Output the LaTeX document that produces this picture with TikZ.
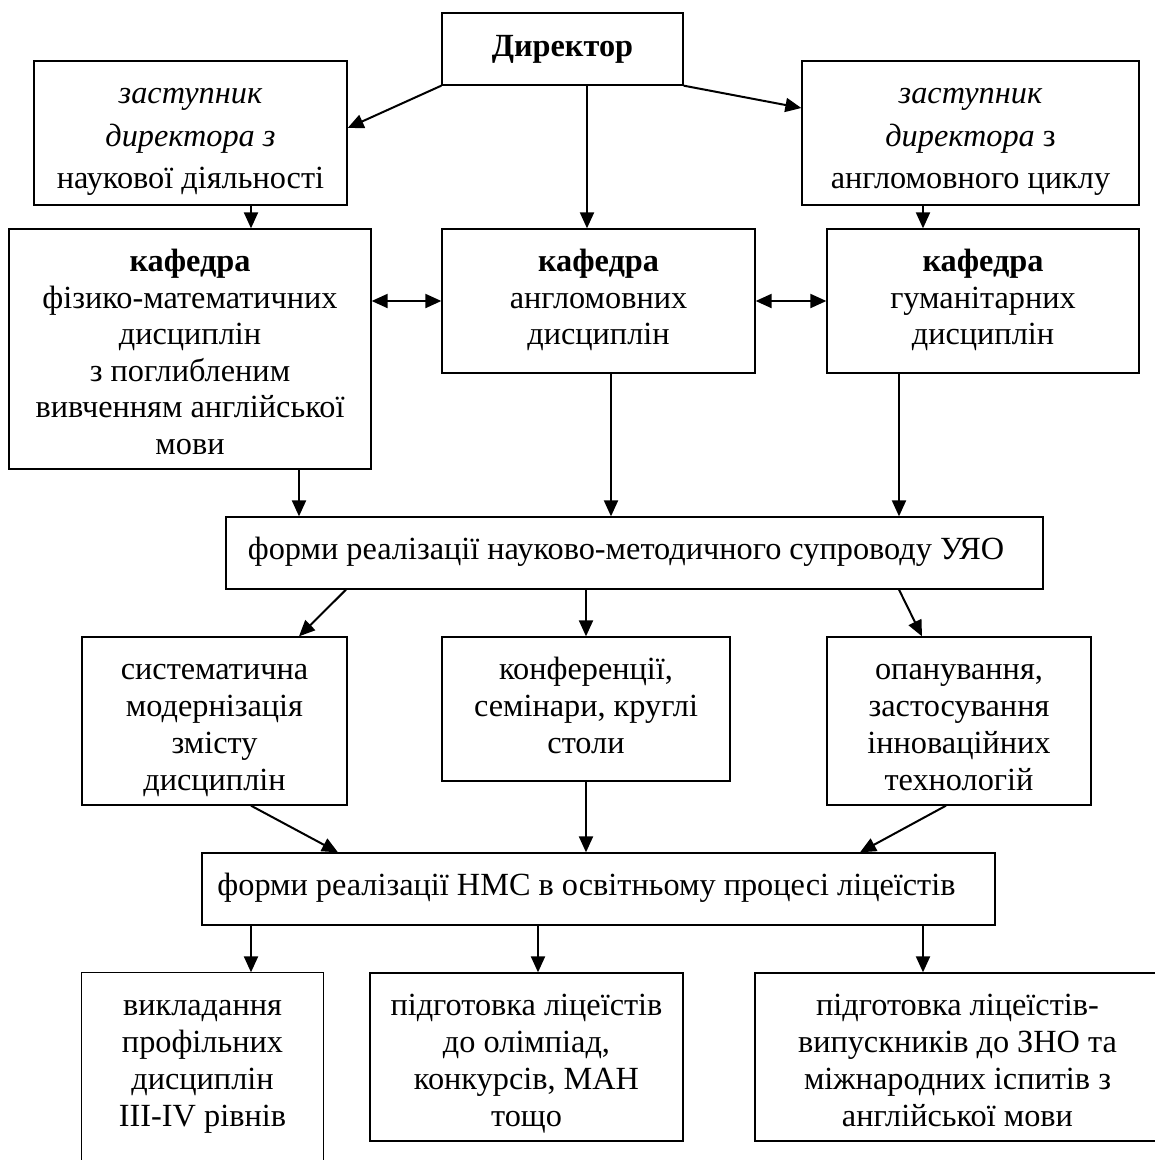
\documentclass[tikz,border=0pt]{standalone}
\usepackage{fontspec}
\setmainfont{Liberation Serif}
\usetikzlibrary{arrows.meta}
\newcommand{\fl}{\rule{0pt}{43pt}}
\tikzset{
  box/.style={draw, line width=1.3pt, inner sep=0pt},
  boxnd/.style={box, draw=none},
  boxline/.style={line width=1.3pt},
  tx/.style={inner sep=0pt, anchor=north, align=center, font=\fontsize{32.3}{37}\selectfont},
  txk/.style={tx, font=\fontsize{32.3}{36.5}\selectfont},
  txd/.style={tx, font=\fontsize{32.3}{42.5}\selectfont},
  arr/.style={line width=2pt, -{Triangle[length=16pt,width=14pt]}},
  darr/.style={line width=2pt, {Triangle[length=16pt,width=14pt]}-{Triangle[length=16pt,width=14pt]}},
}
\begin{document}
\begin{tikzpicture}[x=1pt,y=-1pt]
\useasboundingbox (0,0) rectangle (1155,1160);
\clip (0,0) rectangle (1155,1160);
% boxes
\node[box, minimum width=241pt, minimum height=72pt] (dir) at (562.5,49) {};
\node[box, minimum width=313pt, minimum height=144pt] (dl) at (190.5,133) {};
\node[box, minimum width=337pt, minimum height=144pt] (dr) at (970.5,133) {};
\node[box, minimum width=362pt, minimum height=240pt] (kl) at (190,349) {};
\node[box, minimum width=313pt, minimum height=144pt] (km) at (598.5,301) {};
\node[box, minimum width=312pt, minimum height=144pt] (kr) at (983,301) {};
\node[box, minimum width=817pt, minimum height=72pt] (u) at (634.5,553) {};
\node[box, minimum width=265pt, minimum height=168pt] (sl) at (214.5,721) {};
\node[box, minimum width=288pt, minimum height=144pt] (sm) at (586,709) {};
\node[box, minimum width=264pt, minimum height=168pt] (sr) at (959,721) {};
\node[box, minimum width=793pt, minimum height=72pt] (n) at (598.5,889) {};
\node[boxnd, minimum width=241pt, minimum height=168pt] (bl) at (202.5,1057) {};
\draw[boxline] ([yshift=-60pt]bl.south west) |- (bl.north east) -- ([yshift=-60pt]bl.south east);
\node[box, minimum width=313pt, minimum height=168pt] (bm) at (526.5,1057) {};
\node[box, minimum width=405pt, minimum height=168pt] (br) at (957.5,1057) {};
% texts
\node[tx] (dirT) at (dir.north) {\rule{0pt}{44pt}\textbf{Директор}};
\node[txd] (dlT) at (dl.north) {\fl\textit{заступник}\\\textit{директора з}\\наукової діяльності};
\node[txd] (drT) at (dr.north) {\fl\textit{заступник}\\\textit{директора} з\\англомовного циклу};
\node[txk] (klT) at (kl.north) {\fl\textbf{кафедра}\\фізико-математичних\\дисциплін\\з поглибленим\\вивченням англійської\\мови};
\node[txk] (kmT) at (km.north) {\fl\textbf{кафедра}\\англомовних\\дисциплін};
\node[txk] (krT) at (kr.north) {\fl\textbf{кафедра}\\гуманітарних\\дисциплін};
\node[tx] (uT) at ([xshift=-8.5pt]u.north) {\fl форми реалізації науково-методичного супроводу УЯО};
\node[tx] (slT) at (sl.north) {\fl систематична\\модернізація\\змісту\\дисциплін};
\node[tx] (smT) at (sm.north) {\fl конференції,\\семінари, круглі\\столи};
\node[tx] (srT) at (sr.north) {\fl опанування,\\застосування\\інноваційних\\технологій};
\node[tx] (nT) at ([xshift=-12pt]n.north) {\fl форми реалізації НМС в освітньому процесі ліцеїстів};
\node[tx] (blT) at (bl.north) {\fl викладання\\профільних\\дисциплін\\III-IV рівнів};
\node[tx] (bmT) at (bm.north) {\fl підготовка ліцеїстів\\до олімпіад,\\конкурсів, МАН\\тощо};
\node[tx] (brT) at (br.north) {\fl підготовка ліцеїстів-\\випускників до ЗНО та\\міжнародних іспитів з\\англійської мови};
% connectors
\draw[arr] (dir.south west) -- ([yshift=5pt]dl.east);
\draw[arr] ([xshift=24.5pt]dir.south) -- ([xshift=24.5pt]dir.south |- km.north);
\draw[arr] (dir.south east) -- ([yshift=25pt]dr.west);
\draw[arr] ([xshift=60.5pt]dl.south) -- ([xshift=60.5pt]dl.south |- kl.north);
\draw[arr] ([xshift=-47.5pt]dr.south) -- ([xshift=-47.5pt]dr.south |- kr.north);
\draw[darr] (km.west -| kl.east) -- (km.west);
\draw[darr] (km.east) -- (kr.west);
\draw[arr] ([xshift=109pt]kl.south) -- ([xshift=109pt]kl.south |- u.north);
\draw[arr] ([xshift=12.5pt]km.south) -- ([xshift=12.5pt]km.south |- u.north);
\draw[arr] ([xshift=-84pt]kr.south) -- ([xshift=-84pt]kr.south |- u.north);
\draw[arr] ([xshift=-288.5pt]u.south) -- ([xshift=84.5pt]sl.north);
\draw[arr] (u.south -| sm.north) -- (sm.north);
\draw[arr] ([xshift=264.5pt]u.south) -- ([xshift=-37pt]sr.north);
\draw[arr] ([xshift=36.5pt]sl.south) -- ([xshift=-260.5pt]n.north);
\draw[arr] (sm.south) -- (sm.south |- n.north);
\draw[arr] ([xshift=-13pt]sr.south) -- ([xshift=261.5pt]n.north);
\draw[arr] ([xshift=48.5pt]bl.north |- n.south) -- ([xshift=48.5pt]bl.north);
\draw[arr] ([xshift=11.5pt]bm.north |- n.south) -- ([xshift=11.5pt]bm.north);
\draw[arr] ([xshift=-34.5pt]br.north |- n.south) -- ([xshift=-34.5pt]br.north);
\end{tikzpicture}
\end{document}
